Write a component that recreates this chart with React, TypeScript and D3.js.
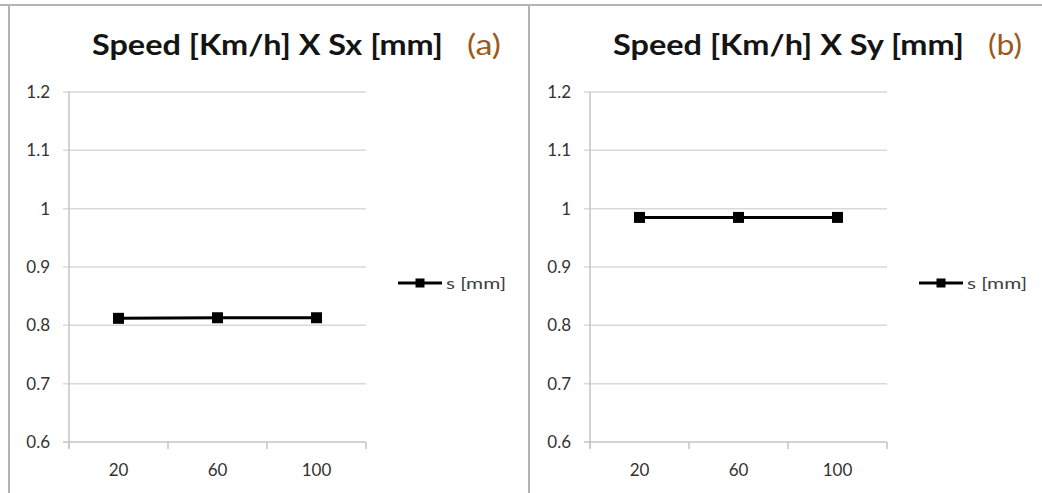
import React from "react";
import * as d3 from "d3";

const categories = ["20", "60", "100"];
const sxValues = [0.812, 0.813, 0.813];
const syValues = [0.985, 0.985, 0.985];
const yTickValues = [0.6, 0.7, 0.8, 0.9, 1, 1.1, 1.2];
const yTickLabels = ["0.6", "0.7", "0.8", "0.9", "1", "1.1", "1.2"];
const seriesName = "s [mm]";
const titles = ["Speed [Km/h] X Sx [mm]", "Speed [Km/h] X Sy [mm]"];
const panelTags = ["(a)", "(b)"];

const W = 1042;
const H = 493;
const FONT = "Lato, 'Open Sans', sans-serif";

function Panel({ ox, values, title, tag }: { ox: number; values: number[]; title: string; tag: string }) {
  const x = d3.scaleBand<string>().domain(categories).range([69, 366]).padding(0);
  const y = d3.scaleLinear().domain([0.6, 1.2]).range([442, 92]);
  const line = d3
    .line<number>()
    .x((_, i) => (x(categories[i]) as number) + x.bandwidth() / 2)
    .y((d) => y(d));
  const bandEdges = [...categories.map((c) => x(c) as number), x.range()[1]];
  const ms = 11;
  return (
    <g transform={`translate(${ox},0)`}>
      <text x={92} y={55} fontFamily={FONT} fontWeight="bold" fontSize={28} fill="#141414" textLength={351} lengthAdjust="spacingAndGlyphs">
        {title}
      </text>
      <text x={467} y={55} fontFamily={FONT} fontSize={28} fill="#9a5a1c" textLength={34} lengthAdjust="spacingAndGlyphs">
        {tag}
      </text>
      {yTickValues.map((v) => (
        <line key={"g" + v} x1={63} x2={x.range()[1]} y1={y(v)} y2={y(v)} stroke={v === 0.6 ? "#c4c4c4" : "#d9d9d9"} strokeWidth={1.5} />
      ))}
      <line x1={69} x2={69} y1={y(1.2)} y2={y(0.6) + 6} stroke="#c4c4c4" strokeWidth={1.5} />
      {bandEdges.map((e, i) => (
        <line key={"xt" + i} x1={e} x2={e} y1={y(0.6)} y2={y(0.6) + 7} stroke="#c4c4c4" strokeWidth={1.5} />
      ))}
      {yTickValues.map((v, i) => (
        <text key={"yl" + v} x={50} y={y(v)} dy="0.35em" textAnchor="end" fontFamily={FONT} fontSize={17} fill="#333">
          {yTickLabels[i]}
        </text>
      ))}
      {categories.map((c) => (
        <text key={"xl" + c} x={(x(c) as number) + x.bandwidth() / 2} y={470} dy="0.35em" textAnchor="middle" fontFamily={FONT} fontSize={17} fill="#333">
          {c}
        </text>
      ))}
      <path d={line(values) || ""} fill="none" stroke="#000" strokeWidth={3} />
      {values.map((v, i) => (
        <rect
          key={"m" + i}
          x={(x(categories[i]) as number) + x.bandwidth() / 2 - ms / 2}
          y={y(v) - ms / 2}
          width={ms}
          height={ms}
          fill="#000"
        />
      ))}
      <line x1={398} x2={442} y1={283} y2={283} stroke="#000" strokeWidth={3} />
      <rect x={420 - 4.5} y={283 - 4.5} width={9} height={9} fill="#000" />
      <text x={446} y={283} dy="0.35em" fontFamily={FONT} fontSize={16} fill="#404040" textLength={60} lengthAdjust="spacingAndGlyphs">
        {seriesName}
      </text>
    </g>
  );
}

export default function App() {
  return (
    <div style={{ position: "absolute", left: 0, top: 0, width: W, height: H, background: "#fff" }}>
      <svg width={W} height={H} viewBox={`0 0 ${W} ${H}`} style={{ display: "block" }}>
        <rect x={0} y={0} width={W} height={H} fill="#fff" />
        <line x1={0} x2={W} y1={5} y2={5} stroke="#b4b4b4" strokeWidth={2} />
        <line x1={9} x2={9} y1={5} y2={H} stroke="#b4b4b4" strokeWidth={2} />
        <line x1={529} x2={529} y1={5} y2={H} stroke="#b4b4b4" strokeWidth={2} />
        <Panel ox={0} values={sxValues} title={titles[0]} tag={panelTags[0]} />
        <Panel ox={521} values={syValues} title={titles[1]} tag={panelTags[1]} />
      </svg>
    </div>
  );
}
